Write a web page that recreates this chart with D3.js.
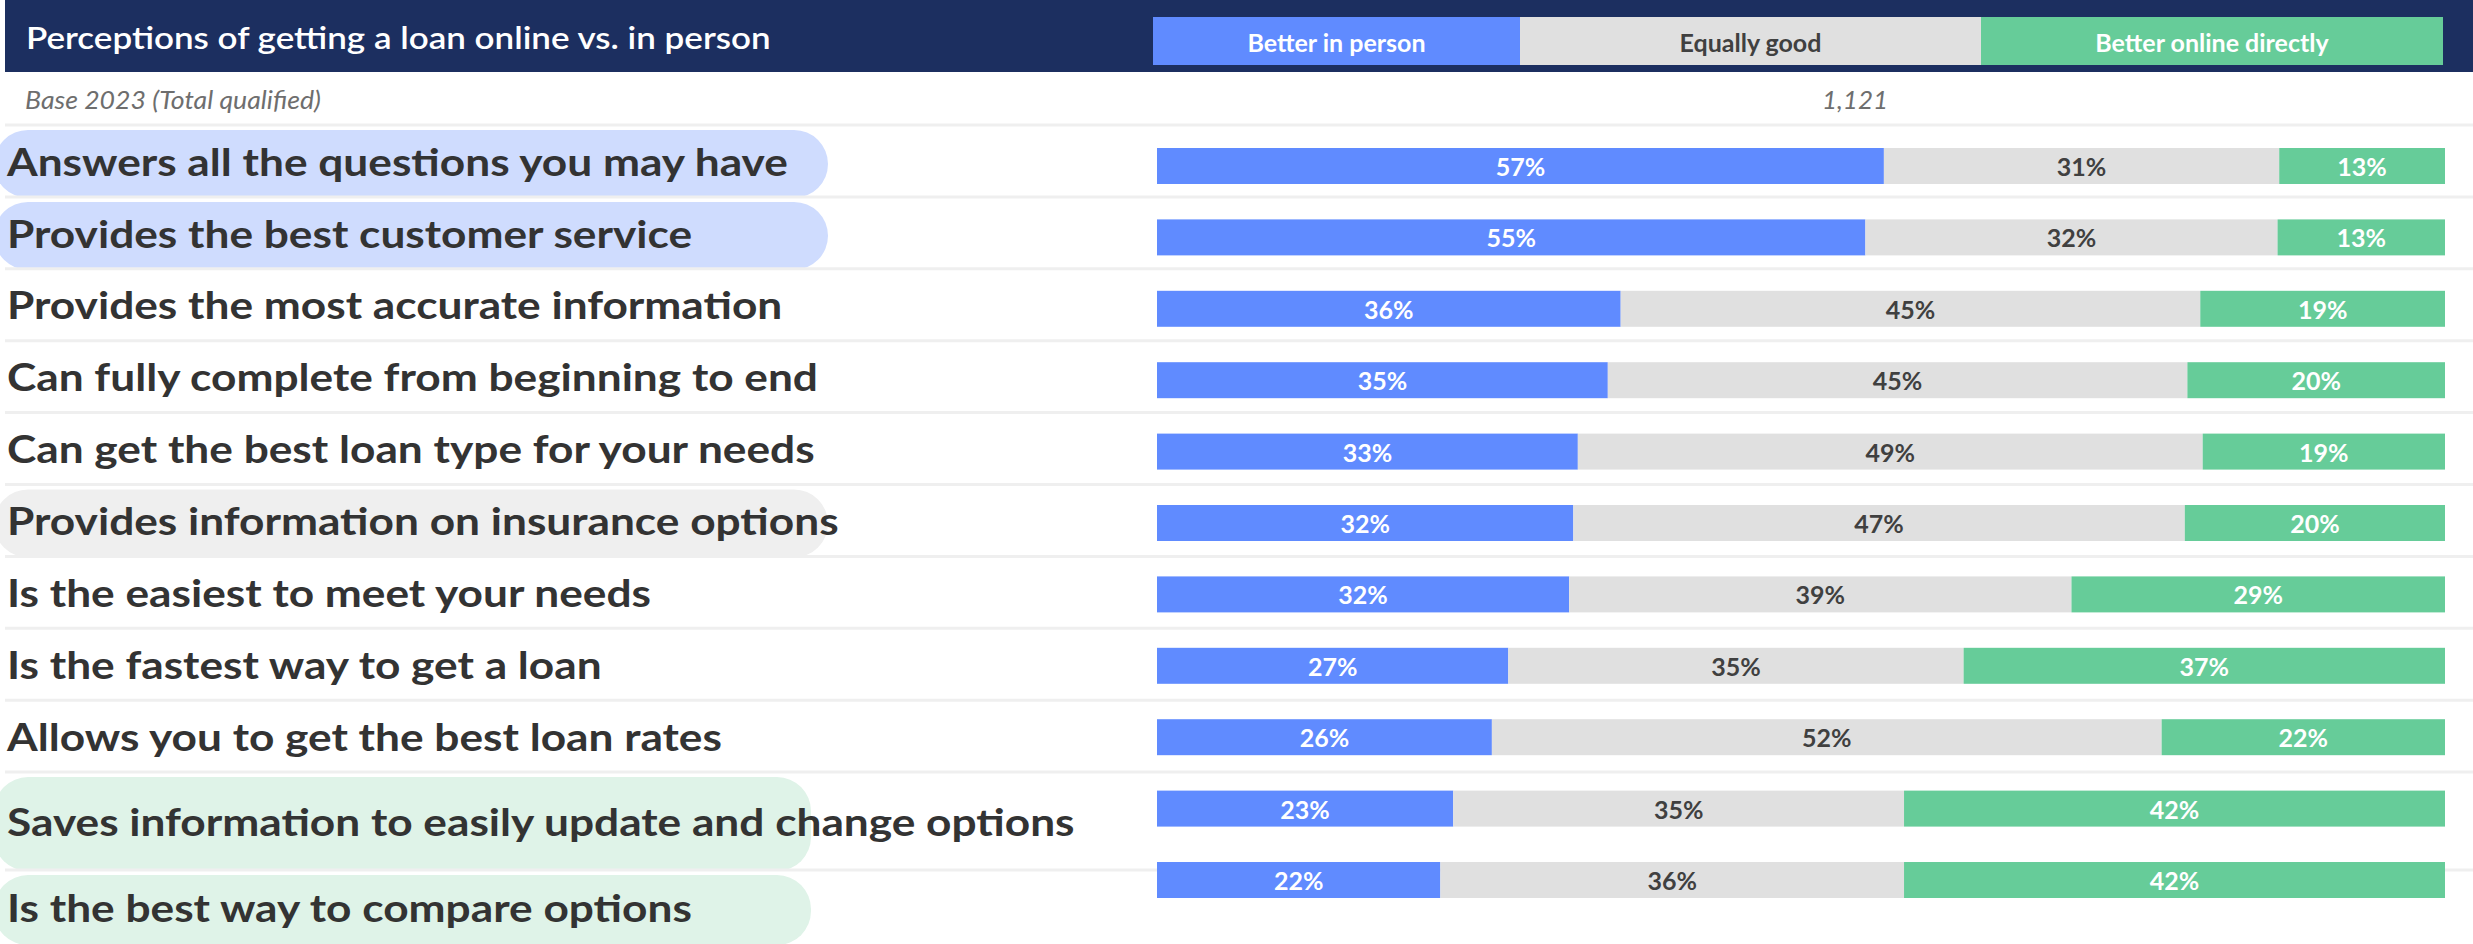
<!DOCTYPE html>
<html>
<head>
<meta charset="utf-8">
<script src="https://cdn.jsdelivr.net/npm/d3@7"></script>
<style>
  body { margin: 0; background: #fff; }
  svg { display: block; }
  text { font-family: Lato, "Open Sans", sans-serif; }
</style>
</head>
<body>
<script>
// chart values
var title = "Perceptions of getting a loan online vs. in person";
var seriesNames = ["Better in person", "Equally good", "Better online directly"];
var baseLabel = "Base 2023 (Total qualified)";
var baseCount = "1,121";

var categories = [
  "Answers all the questions you may have",
  "Provides the best customer service",
  "Provides the most accurate information",
  "Can fully complete from beginning to end",
  "Can get the best loan type for your needs",
  "Provides information on insurance options",
  "Is the easiest to meet your needs",
  "Is the fastest way to get a loan",
  "Allows you to get the best loan rates",
  "Saves information to easily update and change options",
  "Is the best way to compare options"
];
var inPerson = [57, 55, 36, 35, 33, 32, 32, 27, 26, 23, 22];
var equallyGood = [31, 32, 45, 45, 49, 47, 39, 35, 52, 35, 36];
var online = [13, 13, 19, 20, 19, 20, 29, 37, 22, 42, 42];
// which rows carry a highlight pill behind the label
var highlight = ["blue", "blue", null, null, null, "grey", null, null, null, "green", "green"];

var W = 2473, H = 944;
var colors = ["#608bff", "#e0e0e0", "#66cc99"];
var textColors = ["#ffffff", "#404040", "#ffffff"];
var pillStyle = {
  blue:  { fill: "#cfdcfe", right: 828 },
  grey:  { fill: "#efefef", right: 828 },
  green: { fill: "#dff3e8", right: 811 }
};

var svg = d3.select("body").append("svg")
  .attr("width", W).attr("height", H);

// label rows of the table (last two rows are taller, as in the source slide)
var rowHeights = d3.range(9).map(function(){ return 71.9; }).concat([98, 74]);
var bounds = [125];
rowHeights.forEach(function(h, i){ bounds.push(bounds[i] + h); });

// header band
svg.append("rect")
  .attr("x", 5).attr("y", 0).attr("width", W - 5).attr("height", 72)
  .attr("fill", "#1c2f60");

function fitText(sel, target) {
  var w = sel.node().getComputedTextLength();
  return target / w;
}

var t = svg.append("text")
  .attr("x", 0).attr("y", 0)
  .attr("font-size", 31).attr("font-weight", 600)
  .attr("fill", "#fff")
  .attr("dominant-baseline", "central")
  .text(title);
var k = fitText(t, 745);
t.attr("transform", "translate(26,37) scale(" + k + ",1)");

// legend boxes
var legendEdges = [1153, 1520, 1981, 2443];
var legend = svg.append("g").selectAll("g")
  .data(seriesNames)
  .enter().append("g");
legend.append("rect")
  .attr("x", function(d, i){ return legendEdges[i]; })
  .attr("y", 17)
  .attr("width", function(d, i){ return legendEdges[i + 1] - legendEdges[i]; })
  .attr("height", 48)
  .attr("fill", function(d, i){ return colors[i]; });
legend.append("text")
  .attr("x", function(d, i){ return (legendEdges[i] + legendEdges[i + 1]) / 2; })
  .attr("y", 42)
  .attr("text-anchor", "middle")
  .attr("dominant-baseline", "central")
  .attr("font-size", 25).attr("font-weight", 700)
  .attr("fill", function(d, i){ return textColors[i]; })
  .text(function(d){ return d; });

// base row
var base = svg.append("text")
  .attr("x", 0).attr("y", 0)
  .attr("dominant-baseline", "central")
  .attr("font-size", 26).attr("font-style", "italic").attr("font-weight", 400)
  .attr("fill", "#6e6e6e")
  .text(baseLabel);
var bk = fitText(base, 296);
base.attr("transform", "translate(25,99) scale(" + bk + ",1)");
svg.append("text")
  .attr("x", 1855).attr("y", 99)
  .attr("text-anchor", "middle")
  .attr("dominant-baseline", "central")
  .attr("font-size", 26).attr("font-style", "italic").attr("font-weight", 400)
  .attr("fill", "#6e6e6e")
  .text(baseCount);

// highlight pills
var pills = svg.append("g");
categories.forEach(function(c, i){
  if (!highlight[i]) return;
  var st = pillStyle[highlight[i]];
  var y0 = bounds[i] + 5, y1 = bounds[i + 1] + 1;
  pills.append("rect")
    .attr("x", -6).attr("y", y0)
    .attr("width", st.right + 6).attr("height", y1 - y0)
    .attr("rx", 34).attr("ry", Math.min(34, (y1 - y0) / 2))
    .attr("fill", st.fill);
});

// separators
svg.append("g").selectAll("line")
  .data(bounds.slice(0, 11))
  .enter().append("line")
  .attr("x1", 5).attr("x2", W)
  .attr("y1", function(d){ return d; }).attr("y2", function(d){ return d; })
  .attr("stroke", "#efefef").attr("stroke-width", 3);

// category labels
var labels = svg.append("g").selectAll("text")
  .data(categories)
  .enter().append("text")
  .attr("x", 0).attr("y", 0)
  .attr("dominant-baseline", "central")
  .attr("font-size", 38).attr("font-weight", 700)
  .attr("fill", "#333333")
  .text(function(d){ return d; });
var longest = labels.filter(function(d, i){ return i === 9; });
var lk = fitText(longest, 1068);
labels.attr("transform", function(d, i){
  return "translate(7," + ((bounds[i] + bounds[i + 1]) / 2) + ") scale(" + lk + ",1)";
});

// stacked 100% bars
var rows = categories.map(function(c, i){
  return { cat: c, a: inPerson[i], b: equallyGood[i], c: online[i] };
});
var keys = ["a", "b", "c"];
var raw = { a: inPerson, b: equallyGood, c: online };
var stacked = d3.stack().keys(keys).offset(d3.stackOffsetExpand)(rows);

var x = d3.scaleLinear().domain([0, 1]).range([1157, 2445]);
var y = d3.scaleBand().domain(categories).range([148, 898])
  .paddingInner(0.496).paddingOuter(0);

var series = svg.append("g").selectAll("g")
  .data(stacked)
  .enter().append("g");

series.selectAll("rect")
  .data(function(s){ return s; })
  .enter().append("rect")
  .attr("x", function(d){ return x(d[0]); })
  .attr("y", function(d){ return y(d.data.cat); })
  .attr("width", function(d){ return x(d[1]) - x(d[0]); })
  .attr("height", y.bandwidth())
  .attr("fill", function(){ return colors[keys.indexOf(d3.select(this.parentNode).datum().key)]; });

series.selectAll("text")
  .data(function(s){ return s.map(function(d, i){ return { d: d, key: s.key, i: i }; }); })
  .enter().append("text")
  .attr("x", function(o){ return (x(o.d[0]) + x(o.d[1])) / 2; })
  .attr("y", function(o){ return y(o.d.data.cat) + y.bandwidth() / 2; })
  .attr("text-anchor", "middle")
  .attr("dominant-baseline", "central")
  .attr("font-size", 25).attr("font-weight", 700)
  .attr("fill", function(o){ return textColors[keys.indexOf(o.key)]; })
  .text(function(o){ return raw[o.key][o.i] + "%"; });
</script>
</body>
</html>
